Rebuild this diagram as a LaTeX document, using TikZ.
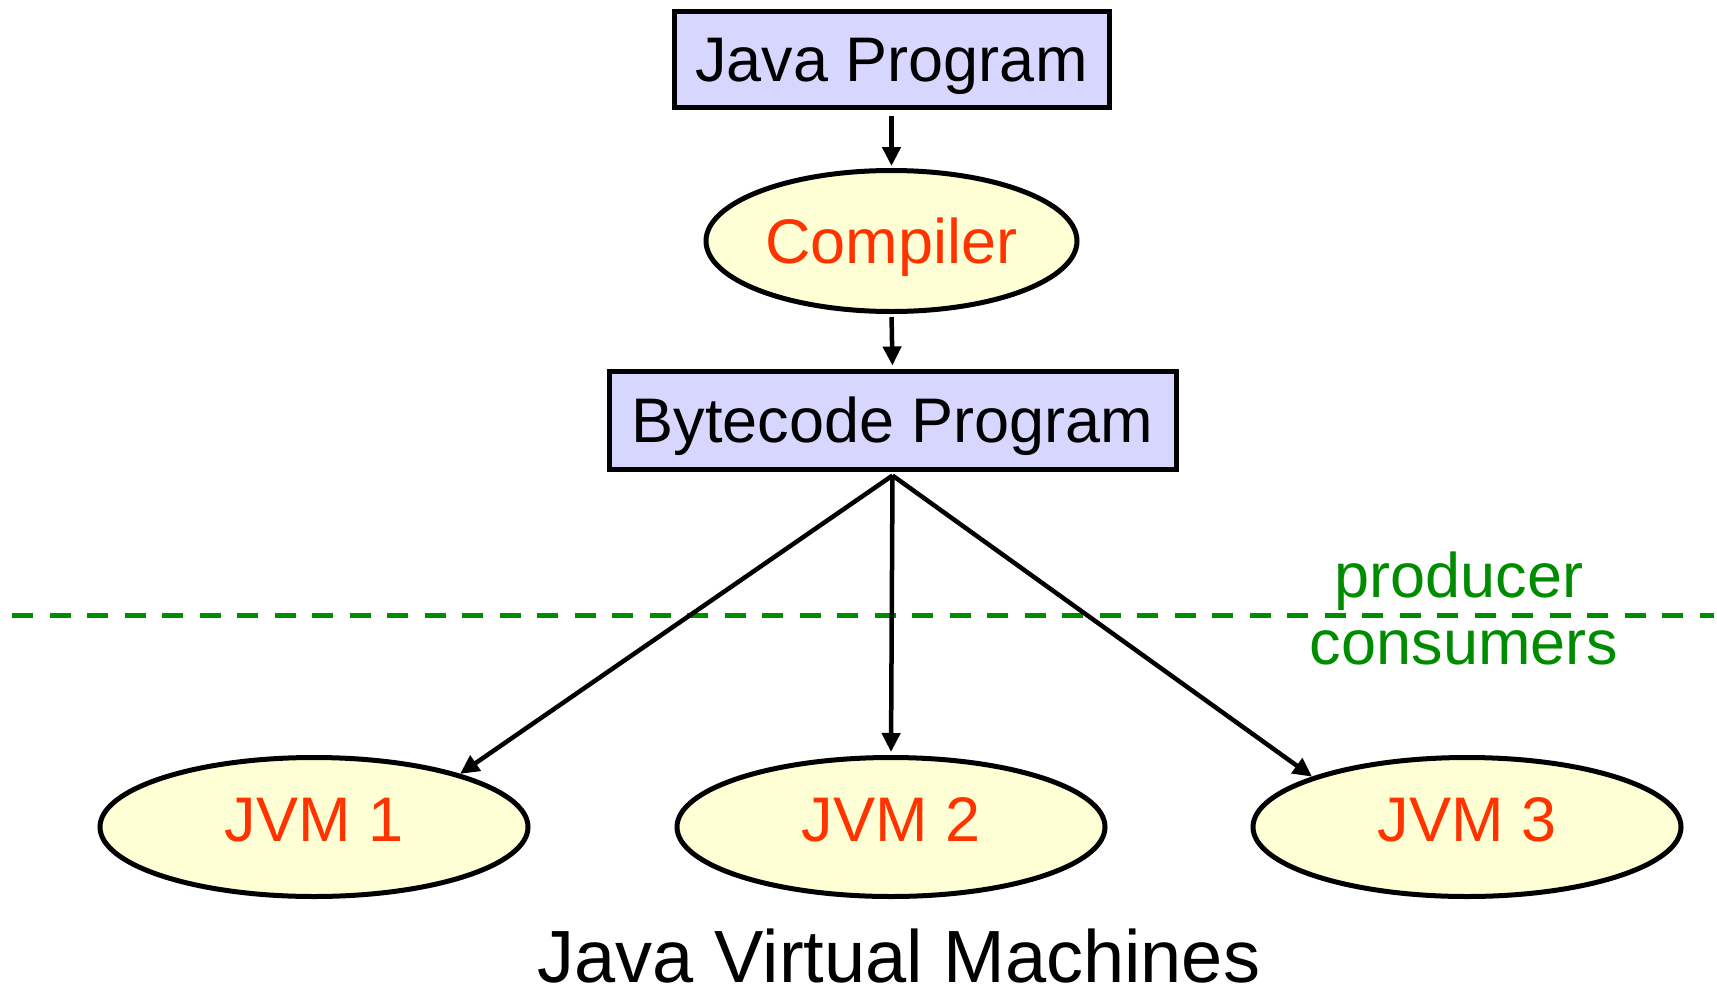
\documentclass[tikz,border=0pt]{standalone}
\usepackage{fontspec}
\setmainfont{Liberation Sans}
\usetikzlibrary{arrows.meta,shapes.geometric}
\definecolor{boxfill}{RGB}{214,214,255}
\definecolor{ellfill}{RGB}{255,255,214}
\definecolor{redtxt}{RGB}{255,51,0}
\definecolor{grn}{RGB}{0,140,0}
\begin{document}
\begin{tikzpicture}[x=1pt,y=-1pt,
  font=\fontsize{63}{70}\selectfont,
  prog/.style={draw=black, line width=5pt, fill=boxfill, rectangle, inner sep=0pt, text height=45pt, text depth=0pt},
  proc/.style={draw=black, line width=5pt, fill=ellfill, ellipse, inner sep=0pt, text=redtxt, text height=45pt, text depth=0pt},
  jvm/.style={proc, minimum width=428pt, minimum height=139pt, text depth=17pt},
  conn/.style={line width=4.5pt, -{Triangle[length=19pt,width=18pt]}},
  lbl/.style={text=grn, anchor=base, inner sep=0pt},
  divider/.style={draw=grn, line width=5pt, dash pattern=on 21pt off 16.5pt}]
\useasboundingbox (0,0) rectangle (1717,994);
% divider
\coordinate (dl) at (12,615);
\coordinate (dr) at (1714,615);
\draw[divider] (dl) -- (dr);
\node[lbl] (prod) at (1459,597) {producer};
\node[lbl] (cons) at (1464,664) {consumers};
% nodes
\node[prog, minimum width=435pt, minimum height=96pt] (jp) at (891.5,59) {Java Program};
\node[proc, minimum width=371pt, minimum height=141pt] (comp) at (891.5,241) {Compiler};
\node[prog, minimum width=567pt, minimum height=98pt] (bc) at (892.5,420) {Bytecode Program};
\node[jvm] (jvm1) at (314,827) {JVM 1};
\node[jvm] (jvm2) at (891,827) {JVM 2};
\node[jvm] (jvm3) at (1467,827) {JVM 3};
\node[anchor=base, inner sep=0pt, font=\fontsize{74}{80}\selectfont] (title) at (899,982) {Java Virtual Machines};
% connectors
\draw[conn, shorten <=6pt, shorten >=2pt] (jp.south) -- (comp.north);
\draw[conn, shorten <=3pt, shorten >=3pt] (comp.south) -- (bc.north);
\coordinate (fan) at ([yshift=-4pt]bc.south);
\draw[conn] (fan) -- (jvm1.20);
\draw[conn, shorten >=3pt] (fan) -- (jvm2.north);
\draw[conn] (fan) -- (jvm3.162);
\end{tikzpicture}
\end{document}
